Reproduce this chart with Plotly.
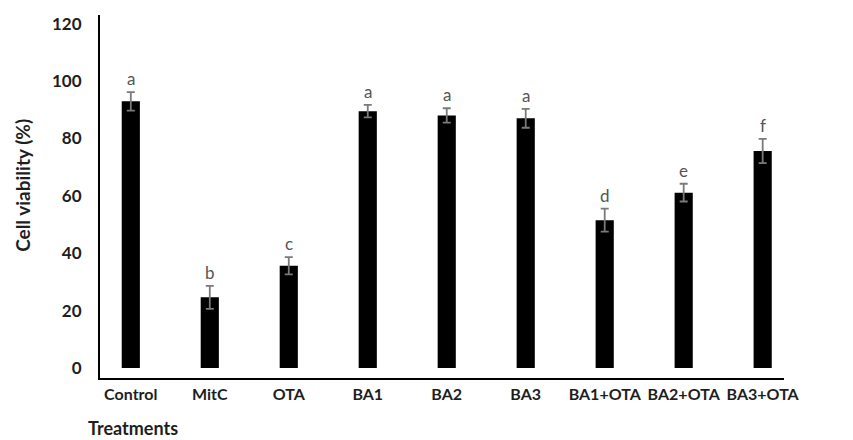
import plotly.graph_objects as go

treatments = ["Control", "MitC", "OTA", "BA1", "BA2", "BA3", "BA1+OTA", "BA2+OTA", "BA3+OTA"]
viability = [92.9, 24.6, 35.6, 89.5, 88.0, 87.0, 51.5, 61.1, 75.6]
errors = [3.2, 4.0, 3.0, 2.2, 2.5, 3.3, 4.0, 3.1, 4.2]
letters = ["a", "b", "c", "a", "a", "a", "d", "e", "f"]
y_ticks = [0, 20, 40, 60, 80, 100, 120]

FONT = "Lato, 'Open Sans', sans-serif"
TXT = "#1e1e1e"

fig = go.Figure()
fig.add_trace(go.Bar(
    x=treatments, y=viability,
    marker=dict(color="black", line=dict(color="black", width=0)),
    error_y=dict(type="data", array=errors, visible=True, color="#7a7a7a", thickness=1.8, width=4),
    width=0.23,
    showlegend=False,
))

for t, v, e, l in zip(treatments, viability, errors, letters):
    fig.add_annotation(x=t, y=v + e, text=l, showarrow=False, yanchor="bottom", yshift=1,
                       font=dict(family=FONT, size=17, color="#555555"))

fig.update_layout(
    width=853, height=440,
    margin=dict(l=92, r=77, t=7, b=70),
    plot_bgcolor="white", paper_bgcolor="white",
    xaxis=dict(
        range=[-0.39, 8.27], showline=True, linecolor="black", linewidth=2,
        showgrid=False, ticks="", ticklabelstandoff=1, automargin=False,
        tickfont=dict(family=FONT, size=16, color=TXT, weight="bold"),
    ),
    yaxis=dict(
        range=[-3.5, 123], showline=True, linecolor="black", linewidth=2,
        showgrid=False, zeroline=False, ticks="", tickvals=y_ticks, ticklabelstandoff=13,
        automargin=False,
        tickfont=dict(family=FONT, size=17, color=TXT, weight="bold"),
    ),
)
fig.add_annotation(xref="paper", yref="paper", x=-0.1126, y=0.532, xanchor="center", yanchor="middle",
                   text="Cell viability (%)", showarrow=False, textangle=-90,
                   font=dict(family=FONT, size=19, color=TXT, weight="bold"))
fig.add_annotation(xref="paper", yref="paper", x=-0.019, y=-0.1377, xanchor="left", yanchor="middle",
                   text="Treatments", showarrow=False, borderpad=0,
                   font=dict(family=FONT, size=18, color=TXT, weight="bold"))

fig.write_html("out.html")
